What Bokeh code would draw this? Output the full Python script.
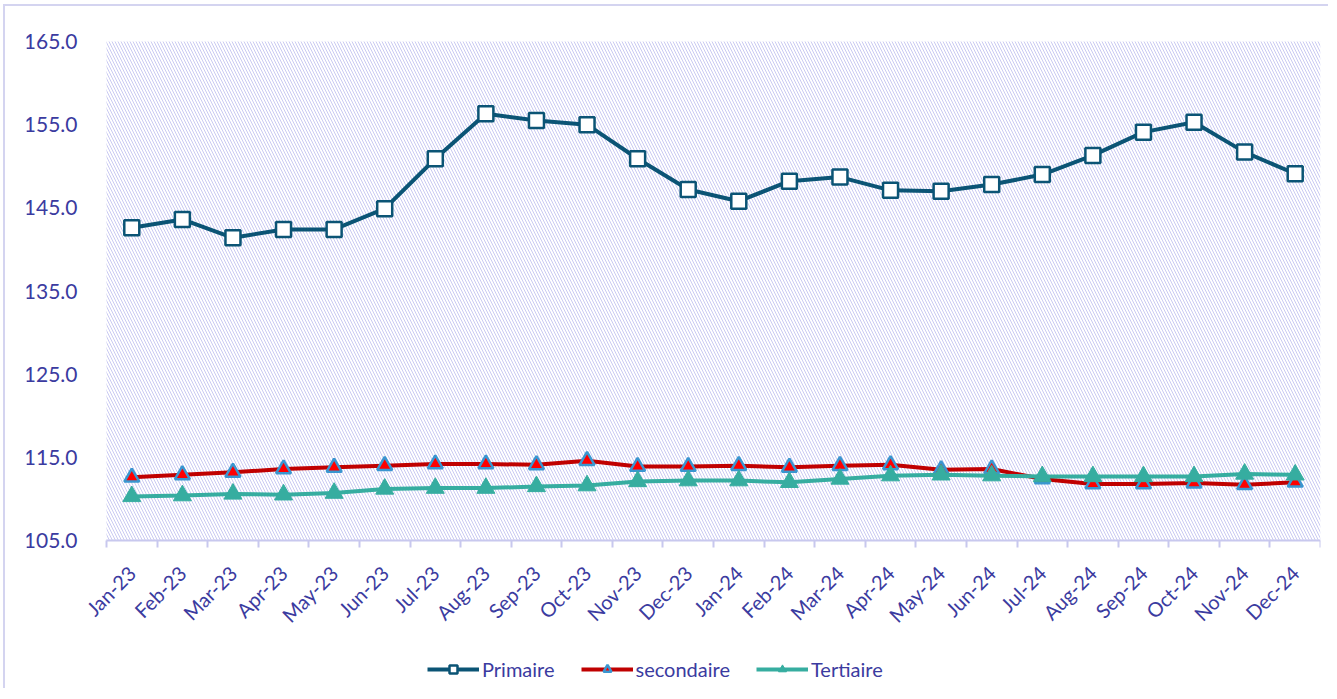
from bokeh.plotting import figure
from bokeh.models import (FixedTicker, BoxAnnotation, Legend, LegendItem,
                          LinearAxis, NumeralTickFormatter)
from bokeh.embed import file_html
from bokeh.resources import INLINE

months = ["Jan-23", "Feb-23", "Mar-23", "Apr-23", "May-23", "Jun-23", "Jul-23", "Aug-23",
          "Sep-23", "Oct-23", "Nov-23", "Dec-23", "Jan-24", "Feb-24", "Mar-24", "Apr-24",
          "May-24", "Jun-24", "Jul-24", "Aug-24", "Sep-24", "Oct-24", "Nov-24", "Dec-24"]

primaire = [142.6, 143.6, 141.4, 142.4, 142.4, 144.9, 150.9, 156.3, 155.5, 155.0, 150.9, 147.2,
            145.8, 148.2, 148.7, 147.1, 147.0, 147.8, 149.0, 151.3, 154.1, 155.3, 151.7, 149.1]
secondaire = [112.6, 112.9, 113.2, 113.6, 113.8, 114.0, 114.2, 114.2, 114.1, 114.6, 113.9, 113.9,
              114.0, 113.8, 114.0, 114.1, 113.5, 113.6, 112.4, 111.8, 111.8, 111.9, 111.7, 112.0]
tertiaire = [110.3, 110.4, 110.6, 110.5, 110.7, 111.2, 111.3, 111.3, 111.5, 111.6, 112.1, 112.2,
             112.2, 112.0, 112.4, 112.8, 112.9, 112.8, 112.7, 112.7, 112.7, 112.7, 113.0, 112.9]

y_ticks = [105, 115, 125, 135, 145, 155, 165]

TXT = "#3B3BA0"
GRID = "#D6D6F2"
FONT = "Lato"

n = len(months)
xs = [i + 0.5 for i in range(n)]

# plot area: 24 categories over 1214 px, 105..165 over 499 px.
# The frame is extended left/top/below to host the axis labels and the legend.
Y_MIN, Y_MAX = y_ticks[0], y_ticks[-1]
PLOT_H = 499
BOTTOM_PAD = 148
TOP_PAD = 16
LEFT_PAD = 80
units_per_px = (Y_MAX - Y_MIN) / PLOT_H
y_start = Y_MIN - BOTTOM_PAD * units_per_px
y_end = Y_MAX + TOP_PAD * units_per_px
x_start = -LEFT_PAD * n / 1214.0

p = figure(frame_width=1214 + LEFT_PAD, frame_height=PLOT_H + BOTTOM_PAD + TOP_PAD,
           x_range=(x_start, n), y_range=(y_start, y_end),
           output_backend="svg", toolbar_location=None,
           min_border_left=101 - LEFT_PAD, min_border_top=35 - TOP_PAD,
           min_border_right=8, min_border_bottom=0,
           x_axis_type=None, y_axis_type=None)
p.styles = {"border-left": "2px solid #D4D4F0", "border-top": "2px solid #D4D4F0",
            "margin-left": "3px", "margin-top": "4px"}
p.outline_line_color = None
p.background_fill_color = "white"

hatch = BoxAnnotation(left=0, bottom=Y_MIN, top=Y_MAX, fill_color="white", fill_alpha=1,
                      line_color=None, hatch_pattern="\\", hatch_color="#CACAF2",
                      hatch_scale=6, hatch_weight=1, level="underlay")
p.add_layout(hatch)

xaxis = LinearAxis(ticker=FixedTicker(ticks=xs, minor_ticks=list(range(n + 1))),
                   fixed_location=Y_MIN, bounds=(0, n))
xaxis.major_label_overrides = {x: m for x, m in zip(xs, months)}
xaxis.major_label_orientation = 0.785398
xaxis.major_tick_line_color = None
xaxis.minor_tick_line_color = "#C8C8EE"
xaxis.minor_tick_line_width = 2
xaxis.minor_tick_out = 7
xaxis.minor_tick_in = 0
xaxis.axis_line_color = "#C8C8EE"
xaxis.axis_line_width = 2
xaxis.major_label_text_color = TXT
xaxis.major_label_text_font = FONT
xaxis.major_label_text_font_size = "20px"
xaxis.major_label_standoff = 22
p.add_layout(xaxis, "below")

yaxis = LinearAxis(ticker=FixedTicker(ticks=y_ticks), formatter=NumeralTickFormatter(format="0.0"),
                   fixed_location=0)
yaxis.axis_line_color = None
yaxis.major_tick_line_color = None
yaxis.minor_tick_line_color = None
yaxis.major_label_text_color = TXT
yaxis.major_label_text_font = FONT
yaxis.major_label_text_font_size = "21px"
yaxis.major_label_standoff = 23
p.add_layout(yaxis, "left")

p.xgrid.grid_line_color = None
p.ygrid.ticker = FixedTicker(ticks=y_ticks)
p.ygrid.bounds = (0, n)
p.ygrid.grid_line_color = GRID
p.ygrid.grid_line_width = 1.5
p.ygrid.level = "underlay"

c1, c2, c3 = "#0B5475", "#C00000", "#36ADA0"

l1 = p.line(xs, primaire, line_color=c1, line_width=4)
s1 = p.scatter(xs, primaire, marker="square", size=15, fill_color="white", line_color=c1, line_width=2.5)
l2 = p.line(xs, secondaire, line_color=c2, line_width=4)
s2 = p.scatter(xs, secondaire, marker="triangle", size=15, fill_color="#FF0000", line_color="#3A96D0", line_width=2.5)
l3 = p.line(xs, tertiaire, line_color=c3, line_width=4)
s3 = p.scatter(xs, tertiaire, marker="triangle", size=18, fill_color=c3, line_color=c3, line_width=1)

legend = Legend(items=[LegendItem(label="Primaire", renderers=[l1, s1]),
                       LegendItem(label="secondaire", renderers=[l2, s2]),
                       LegendItem(label="Tertiaire", renderers=[l3, s3])],
                orientation="horizontal", location=(321 + LEFT_PAD, 7),
                label_text_font=FONT, label_text_font_size="20px", label_text_color=TXT,
                glyph_width=52, glyph_height=20, spacing=26, label_standoff=3,
                border_line_color=None, background_fill_alpha=0, margin=0, padding=2)
p.add_layout(legend)

open("out.html", "w").write(file_html(p, INLINE))
